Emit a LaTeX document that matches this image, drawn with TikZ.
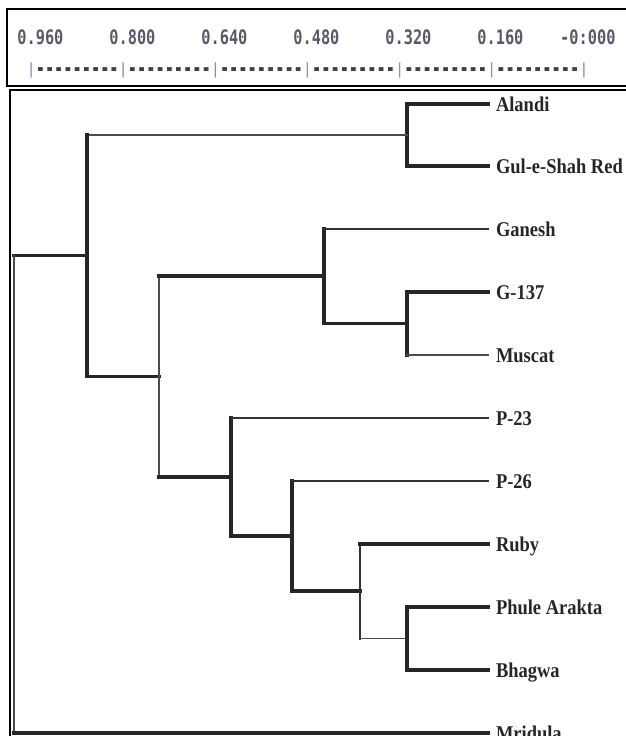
\documentclass[tikz,border=0pt]{standalone}
\usepackage{fontspec}
\setmainfont{Liberation Serif}
\setmonofont{DejaVu Sans Mono}
\usepackage{graphicx}
\usetikzlibrary{calc}

\definecolor{axisgray}{HTML}{5A5868}
\definecolor{tickpurple}{HTML}{A080B8}
\definecolor{dashgray}{HTML}{404040}

\newcommand{\tickbar}{\textcolor{tickpurple}{\mdseries|}}
\newcommand{\dashrun}{\raisebox{-3.5pt}{\scalebox{1}[1.8]{---------}}}
\newcommand{\leaftext}[1]{\scalebox{0.88}[1]{#1}}

\tikzset{
    thk/.style={line width=3.2pt, black!85, line cap=rect},
    med/.style={line width=2.2pt, black!80, line cap=rect},
    thn/.style={line width=1.5pt, black!70, line cap=rect},
    frame/.style={line width=2.4pt, black},
    leaf/.style={anchor=west, inner xsep=8pt, inner ysep=0pt, outer sep=0pt,
        text height=14pt, text depth=0pt, text=black!85,
        font=\bfseries\fontsize{21}{25}\selectfont},
    axislab/.style={anchor=base west, inner sep=0pt, text=axisgray,
        font=\ttfamily\bfseries\fontsize{15.3}{18}\selectfont}
}

\begin{document}
\begin{tikzpicture}[x=1pt, y=-1pt]
    \useasboundingbox (0, 0) rectangle (626, 736);
    \clip (0, 0) rectangle (626, 736);

    % Frames
    \draw [frame] (7, 9) rectangle (660, 86);
    \draw [frame] (10, 90) rectangle (660, 760);

    % Scale
    \foreach \k/\lab/\off in {0/0.960/13.8, 1/0.800/13.8, 2/0.640/13.8, 3/0.480/13.8,
                              4/0.320/13.8, 5/0.160/13.8, 6/-0:000/23}
        \node [axislab] (lab\k) at ({31 + 92*\k - \off}, 44) {\scalebox{1}[1.3]{\lab}};
    \node [axislab, text=dashgray] (ticks) at (26.4, 74)
        {\tickbar\dashrun\tickbar\dashrun\tickbar\dashrun\tickbar\dashrun\tickbar\dashrun\tickbar\dashrun\tickbar};

    % Leaves
    \node [leaf] (alandi) at (488, 104) {\leaftext{Alandi}};
    \node [leaf] (gul) at (488, 166) {\leaftext{Gul-e-Shah Red}};
    \node [leaf] (ganesh) at (488, 229) {\leaftext{Ganesh}};
    \node [leaf] (g137) at (488, 292) {\leaftext{G-137}};
    \node [leaf] (muscat) at (488, 355) {\leaftext{Muscat}};
    \node [leaf] (p23) at (488, 418) {\leaftext{P-23}};
    \node [leaf] (p26) at (488, 481) {\leaftext{P-26}};
    \node [leaf] (ruby) at (488, 544) {\leaftext{Ruby}};
    \node [leaf] (phule) at (488, 607) {\leaftext{Phule Arakta}};
    \node [leaf] (bhagwa) at (488, 670) {\leaftext{Bhagwa}};
    \node [leaf] (mridula) at (488, 733) {\leaftext{Mridula}};

    % Joins
    \coordinate (n1) at (407, 135);
    \coordinate (n2) at (407, 323.5);
    \coordinate (n3) at (324, 276);
    \coordinate (n4) at (407, 638.5);
    \coordinate (n5) at (360, 591);
    \coordinate (n6) at (292, 536);
    \coordinate (n7) at (231, 477);
    \coordinate (n8) at (159, 376.5);
    \coordinate (n9) at (87, 255.75);
    \coordinate (root) at (14, 494);

    % Alandi / Gul-e-Shah Red
    \draw [thk] (alandi.west) -| (n1) |- (gul.west);
    \draw [thn] (n1) -- (n1 -| n9);
    \draw [thk] (n1 -| n9) |- (n8);
    \draw [thk] (n9) -- (n9 -| root);

    % Root and Mridula
    \draw [thn] (n9 -| root) -- (root |- mridula.west);
    \draw [thk] (root |- mridula.west) -- (mridula.west);

    % Ganesh, G-137, Muscat
    \draw [thn] (n3 -| n8) -- (n7 -| n8);
    \draw [thk] (n3 -| n8) -- (n3);
    \draw [thk] (n3 |- ganesh.west) -- (n3 |- n2) -- (n2);
    \draw [med] (n3 |- ganesh.west) -- (ganesh.west);
    \draw [thk] (n2 |- muscat.west) |- (g137.west);
    \draw [thn] (n2 |- muscat.west) -- (muscat.west);

    % P-23 down to Bhagwa
    \draw [thk] (n8 |- n7) -- (n7);
    \draw [thk] (n7 |- p23.west) -- (n7 |- n6) -- (n6);
    \draw [med] (n7 |- p23.west) -- (p23.west);
    \draw [thk] (n6 |- p26.west) -- (n6 |- n5) -- (n5);
    \draw [med] (n6 |- p26.west) -- (p26.west);
    \draw [med] (n5 |- ruby.west) -- (n5 |- n4);
    \draw [thk] (n5 |- ruby.west) -- (ruby.west);
    \draw [thn] (n5 |- n4) -- (n4);
    \draw [thk] (phule.west) -| (n4) |- (bhagwa.west);
\end{tikzpicture}
\end{document}
